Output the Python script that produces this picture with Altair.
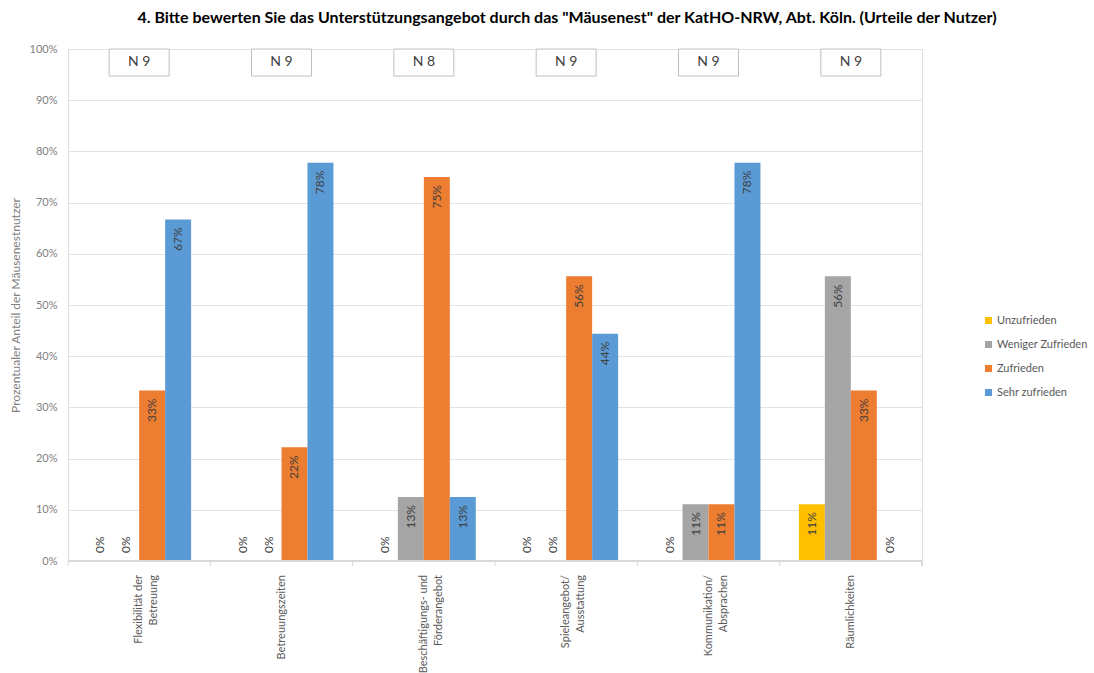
import altair as alt
import pandas as pd

# Survey categories (line breaks in labels marked with "|")
categories = [
    "Flexibilität der|Betreuung",
    "Betreuungszeiten",
    "Beschäftigungs- und|Förderangebot",
    "Spieleangebot/|Ausstattung",
    "Kommunikation/|Absprachen",
    "Räumlichkeiten",
]
ratings = ["Unzufrieden", "Weniger Zufrieden", "Zufrieden", "Sehr zufrieden"]
colors = ["#FFC000", "#A5A5A5", "#ED7D31", "#5B9BD5"]

# Share of respondents per rating, one list per rating (same order as categories)
unzufrieden = [0.0, 0.0, 0.0, 0.0, 0.0, 0.111]
weniger_zufrieden = [0.0, 0.0, 0.125, 0.0, 0.111, 0.556]
zufrieden = [0.333, 0.222, 0.75, 0.556, 0.111, 0.333]
sehr_zufrieden = [0.667, 0.778, 0.125, 0.444, 0.778, 0.0]

# Number of respondents per category
n_counts = [9, 9, 8, 9, 9, 9]

# Y axis tick positions (0 % ... 100 %)
y_ticks = [i / 10 for i in range(11)]

series = [unzufrieden, weniger_zufrieden, zufrieden, sehr_zufrieden]
rows = []
for rating, values in zip(ratings, series):
    for cat, v in zip(categories, values):
        rows.append({"Kategorie": cat, "Bewertung": rating, "Anteil": v})
df = pd.DataFrame(rows)

cat_df = pd.DataFrame({"Kategorie": categories, "N": [f"N {n}" for n in n_counts]})

FONT = "Lato"
PLOT_W, PLOT_H = 854, 512

# category scale without a built-in axis; labels and ticks are drawn as layers
x_enc = alt.X(
    "Kategorie:N",
    sort=categories,
    scale=alt.Scale(domain=categories, paddingInner=0, paddingOuter=0),
    axis=None,
)
x_edge = alt.X(
    "Kategorie:N",
    sort=categories,
    scale=alt.Scale(domain=categories, paddingInner=0, paddingOuter=0),
    axis=None,
    bandPosition=0,
)
xoff_enc = alt.XOffset(
    "Bewertung:N",
    sort=ratings,
    scale=alt.Scale(domain=ratings, paddingInner=0, paddingOuter=0.74),
)
y_enc = alt.Y(
    "Anteil:Q",
    scale=alt.Scale(domain=[0, 1], nice=False),
    axis=alt.Axis(
        title="Prozentualer Anteil der Mäusenestnutzer",
        titleColor="#808080",
        titleFont=FONT,
        titleFontSize=12,
        titleFontWeight="normal",
        titleX=-46,
        format=".0%",
        values=y_ticks,
        labelColor="#808080",
        labelFont=FONT,
        labelFontSize=11,
        labelPadding=11,
        domain=False,
        ticks=False,
        grid=True,
        gridColor="#e3e3e3",
        gridWidth=1,
    ),
)

base = alt.Chart(df)
cat_base = alt.Chart(cat_df)

bars = base.mark_bar().encode(
    x=x_enc,
    xOffset=xoff_enc,
    y=y_enc,
    color=alt.Color(
        "Bewertung:N",
        sort=ratings,
        scale=alt.Scale(domain=ratings, range=colors),
        legend=alt.Legend(
            title=None,
            orient="none",
            legendX=915,
            legendY=266,
            padding=0,
            symbolType="square",
            symbolSize=50,
            symbolStrokeWidth=0,
            labelFont=FONT,
            labelFontSize=11,
            labelColor="#595959",
            labelOffset=3,
            rowPadding=12,
        ),
    ),
)

label_text = alt.Text("Anteil:Q", format=".0%")

# values inside the bar end, reading upwards
inside_labels = base.transform_filter("datum.Anteil > 0").mark_text(
    angle=270, align="right", baseline="middle", dx=-8,
    font=FONT, fontSize=12, color="#404040",
).encode(x=x_enc, xOffset=xoff_enc, y=y_enc, text=label_text)

# zero values sit just above the baseline
zero_labels = base.transform_filter("datum.Anteil == 0").mark_text(
    angle=270, align="left", baseline="middle", dx=8,
    font=FONT, fontSize=12, color="#404040",
).encode(x=x_enc, xOffset=xoff_enc, y=y_enc, text=label_text)

# category axis: baseline, boundary ticks and rotated two-line labels
x_domain = cat_base.mark_rule(color="#d9d9d9", strokeWidth=1).encode(
    x=alt.value(0), x2=alt.value(PLOT_W), y=alt.value(PLOT_H)
)
x_ticks = cat_base.mark_rule(color="#d9d9d9", strokeWidth=1).encode(
    x=x_edge, y=alt.value(PLOT_H), y2=alt.value(PLOT_H + 5)
)
x_tick_end = cat_base.mark_rule(color="#d9d9d9", strokeWidth=1).encode(
    x=alt.value(PLOT_W), y=alt.value(PLOT_H), y2=alt.value(PLOT_H + 5)
)
x_labels = cat_base.mark_text(
    angle=270, align="right", baseline="middle", dx=-14,
    lineBreak="|", lineHeight=15,
    font=FONT, fontSize=11, color="#595959",
).encode(x=x_enc, y=alt.value(PLOT_H), text="Kategorie:N")

# "N" boxes: a framed rectangle symbol with the respondent count inside
n_boxes = cat_base.mark_point(
    shape="M-1,-0.45L1,-0.45L1,0.45L-1,0.45Z",
    size=3600,
    filled=True,
    fill="white",
    fillOpacity=1,
    stroke="#bfbfbf",
    strokeWidth=1,
    opacity=1,
).encode(x=x_enc, y=alt.datum(0.9735))
n_text = cat_base.mark_text(
    font=FONT, fontSize=14, color="#404040", baseline="middle", align="center",
).encode(x=x_enc, y=alt.datum(0.974), text="N:N")

chart = (
    alt.layer(
        bars, inside_labels, zero_labels,
        x_domain, x_ticks, x_tick_end, x_labels,
        n_boxes, n_text,
    )
    .properties(
        width=PLOT_W,
        height=PLOT_H,
        autosize=alt.AutoSizeParams(type="none"),
        padding={"left": 68, "top": 49, "right": 172, "bottom": 112},
        title=alt.TitleParams(
            '4. Bitte bewerten Sie das Unterstützungsangebot durch das "Mäusenest" der KatHO-NRW, Abt. Köln.  (Urteile der Nutzer)',
            font=FONT,
            fontSize=16,
            fontWeight="bold",
            color="#000000",
            anchor="middle",
            dx=72,
            offset=17,
        ),
    )
    .configure_view(stroke=None)
    .configure(background="white")
)

chart.save("out.html", embed_options={"renderer": "svg", "actions": False})
